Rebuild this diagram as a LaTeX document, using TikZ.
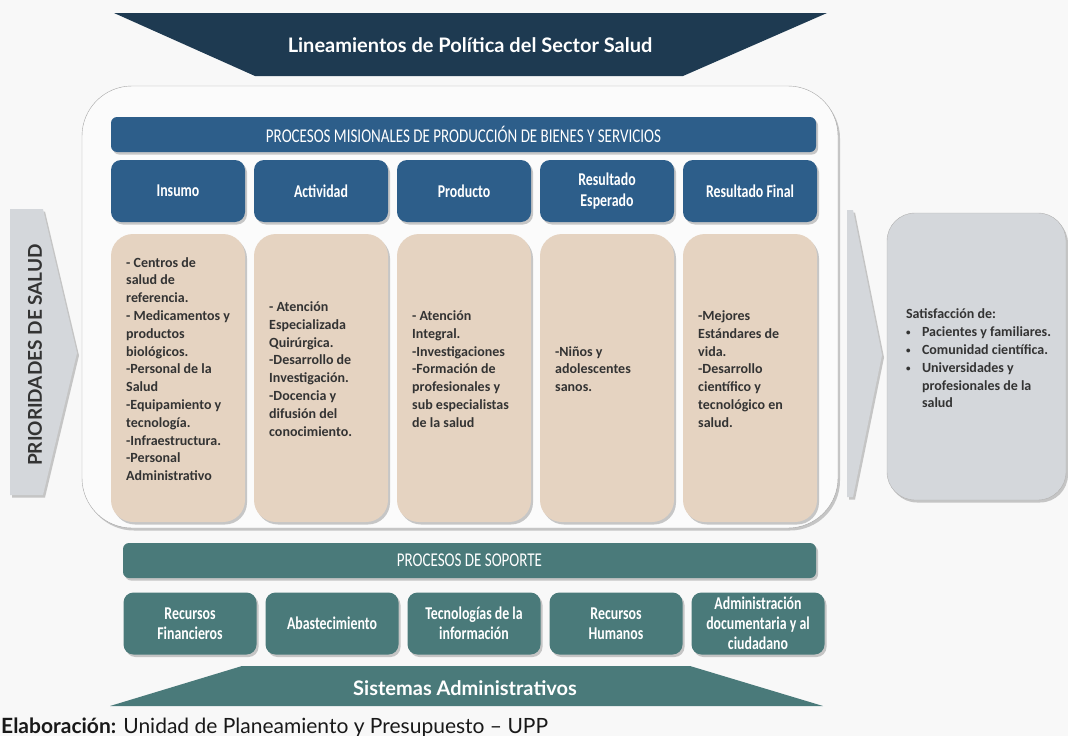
\documentclass[tikz,border=0pt]{standalone}
\usepackage{fontspec}
\setmainfont{Carlito}
\newfontfamily\condfont[FakeStretch=0.77]{Carlito}
\newfontfamily\latofont{Lato}
\usetikzlibrary{positioning,shadows}
\definecolor{navy}{HTML}{1E3A51}
\definecolor{misblue}{HTML}{2D5E8A}
\definecolor{beige}{HTML}{E5D3C1}
\definecolor{suppteal}{HTML}{4A7A7A}
\definecolor{arrowgray}{HTML}{D4D7DB}
\definecolor{bodytext}{HTML}{333333}
\definecolor{pagebg}{HTML}{F8F8F8}
\newcommand{\satbullet}{\makebox[16pt][l]{\raisebox{1pt}{\fontsize{9}{9}\selectfont\textbullet}}}
\tikzset{
  soft shadow/.style={
    drop shadow={shadow xshift=2pt, shadow yshift=-2.5pt, opacity=.35, fill=black!60},
  },
  bar/.style={
    fill=#1,
    rounded corners=6pt,
    minimum height=35pt,
    outer sep=0pt,
    text=white,
    font=\condfont\fontsize{19.5}{22}\selectfont,
    soft shadow,
  },
  head box/.style={
    fill=misblue,
    rounded corners=10pt,
    minimum width=134pt,
    minimum height=62pt,
    outer sep=0pt,
    inner sep=2pt,
    align=center,
    text=white,
    font=\condfont\bfseries\fontsize{18}{21}\selectfont,
    soft shadow,
  },
  body box/.style={
    fill=beige,
    rounded corners=22pt,
    minimum width=134pt,
    minimum height=288pt,
    outer sep=0pt,
    soft shadow,
  },
  body text/.style={
    anchor=west,
    align=left,
    inner sep=0pt,
    text=bodytext,
    font=\bfseries\fontsize{14}{17.8}\selectfont,
  },
  support box/.style={
    fill=suppteal,
    rounded corners=10pt,
    minimum width=133pt,
    minimum height=62pt,
    outer sep=0pt,
    inner sep=2pt,
    align=center,
    text=white,
    font=\condfont\bfseries\fontsize{18}{20}\selectfont,
    soft shadow,
  },
  chevron/.style={
    fill=arrowgray,
    soft shadow,
  },
  big title/.style={
    text=white,
    font=\latofont\bfseries\fontsize{20}{23}\selectfont,
  }
}
\begin{document}
\begin{tikzpicture}[x=1pt, y=-1pt, node distance=9pt]
        \fill [pagebg] (0,0) rectangle (1068,736);
        \useasboundingbox (0,0) rectangle (1068,736);

        \fill [navy] (114,13) -- (827,13) -- (683,76) -- (255,76) -- cycle;
        \node [big title] (lin) at (470,45) {Lineamientos de Política del Sector Salud};

        \path [chevron] (10,209) -- (43,209) -- (77,353) -- (43,495) -- (10,495) -- cycle;
        \node [rotate=90, text=bodytext, font=\latofont\bfseries\fontsize{19}{22}\selectfont] (prio) at (35,355) {PRIORIDADES DE SALUD};

        \draw [gray!70, fill=white!97!gray, rounded corners=50pt, soft shadow] (82,86) rectangle (838,528);

        \node [bar=misblue, minimum width=705pt] (mis) at (463.5,134.5) {PROCESOS MISIONALES DE PRODUCCIÓN DE BIENES Y SERVICIOS};

        \node [head box] (h1) at (178,191) {Insumo};
        \node [head box, right=of h1] (h2) {Actividad};
        \node [head box, right=of h2] (h3) {Producto};
        \node [head box, right=of h3] (h4) {Resultado\\Esperado};
        \node [head box, right=of h4] (h5) {Resultado Final};

        \node [body box, below=12pt of h1] (b1) {};
        \node [body box, below=12pt of h2] (b2) {};
        \node [body box, below=12pt of h3] (b3) {};
        \node [body box, below=12pt of h4] (b4) {};
        \node [body box, below=12pt of h5] (b5) {};

        \node [body text] (t1) at ([xshift=15pt, yshift=9pt]b1.west) {- Centros de\\salud de\\referencia.\\- Medicamentos y\\productos\\biológicos.\\-Personal de la\\Salud\\-Equipamiento y\\tecnología.\\-Infraestructura.\\-Personal\\Administrativo};
        \node [body text] (t2) at ([xshift=15pt, yshift=9pt]b2.west) {- Atención\\Especializada\\Quirúrgica.\\-Desarrollo de\\Investigación.\\-Docencia y\\difusión del\\conocimiento.};
        \node [body text] (t3) at ([xshift=15pt, yshift=9pt]b3.west) {- Atención\\Integral.\\-Investigaciones\\-Formación de\\profesionales y\\sub especialistas\\de la salud};
        \node [body text] (t4) at ([xshift=15pt, yshift=9pt]b4.west) {-Niños y\\adolescentes\\sanos.};
        \node [body text] (t5) at ([xshift=15pt, yshift=9pt]b5.west) {-Mejores\\Estándares de\\vida.\\-Desarrollo\\científico y\\tecnológico en\\salud.};

        \path [chevron] (847,210) -- (853,210) -- (882,355) -- (853,497) -- (847,497) -- cycle;
        \node [fill=arrowgray, draw=gray!60, rounded corners=28pt, minimum width=179pt, minimum height=287pt, soft shadow] (sat) at (976.5,356.5) {};
        \node [body text] (st) at ([xshift=19pt, yshift=-2pt]sat.west) {Satisfacción de:\\\satbullet Pacientes y familiares.\\\satbullet Comunidad científica.\\\satbullet Universidades y\\\hspace*{16pt}profesionales de la\\\hspace*{16pt}salud};

        \node [bar=suppteal, minimum width=693pt] (sop) at (469.5,560.5) {PROCESOS DE SOPORTE};

        \node [support box] (s1) at (190,623.5) {Recursos\\Financieros};
        \node [support box, right=of s1] (s2) {Abastecimiento};
        \node [support box, right=of s2] (s3) {Tecnologías de la\\información};
        \node [support box, right=of s3] (s4) {Recursos\\Humanos};
        \node [support box, right=of s4] (s5) {Administración\\documentaria y al\\ciudadano};

        \fill [suppteal] (242,666) -- (690,666) -- (823,706) -- (110,706) -- cycle;
        \node [big title] (sis) at (465,688) {Sistemas Administrativos};

        \node [anchor=base west, inner sep=0pt, text=black!90, font=\latofont\fontsize{21}{24}\selectfont] (elab) at (1,733) {\textbf{Elaboración:} Unidad de Planeamiento y Presupuesto – UPP};
      \end{tikzpicture}
\end{document}
